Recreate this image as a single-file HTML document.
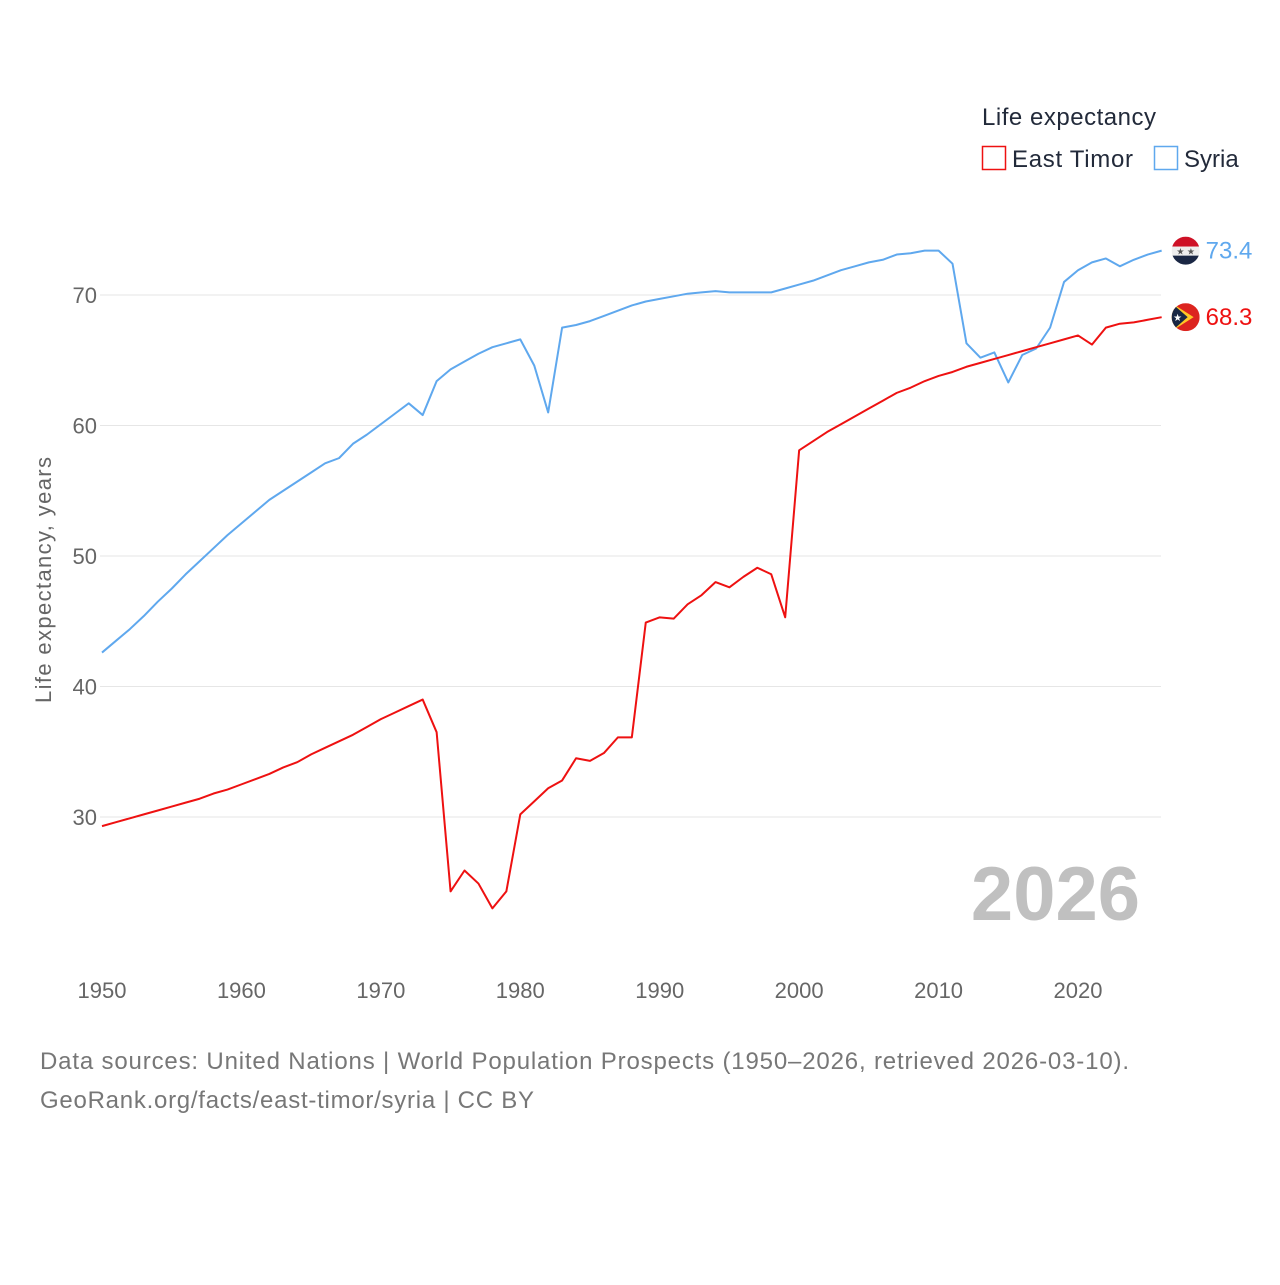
<!DOCTYPE html>
<html><head><meta charset="utf-8"><style>
body{margin:0;background:#fff;width:1280px;height:1280px;overflow:hidden;font-family:"Liberation Sans",sans-serif}
svg text{font-family:"Liberation Sans",sans-serif}
</style></head><body>
<svg id="chart" width="1280" height="1280" xmlns="http://www.w3.org/2000/svg">
<text x="982" y="125" font-size="24" fill="#222a3a" textLength="174">Life expectancy</text>
<g><rect x="982.5" y="146.5" width="23" height="23" fill="none" stroke="#ee1111" stroke-width="1.5"/><text x="1012" y="167" font-size="24" fill="#222a3a" textLength="121">East Timor</text></g>
<g><rect x="1154.5" y="146.5" width="23" height="23" fill="none" stroke="#5fa8ee" stroke-width="1.5"/><text x="1184" y="167" font-size="24" fill="#222a3a">Syria</text></g>
<g id="grid"></g><g id="axes"></g><g id="series"></g>
<text x="1140" y="920" font-size="76" font-weight="bold" fill="#c0c0c0" text-anchor="end">2026</text>
<text transform="translate(51,580) rotate(-90)" font-size="22" fill="#666" text-anchor="middle" textLength="246">Life expectancy, years</text>
<text x="40" y="1069" font-size="24" fill="#777" textLength="1089">Data sources: United Nations | World Population Prospects (1950–2026, retrieved 2026-03-10).</text>
<text x="40" y="1108" font-size="24" fill="#777" textLength="494">GeoRank.org/facts/east-timor/syria | CC BY</text>
</svg>
<script>
const years=[];for(let y=1950;y<=2026;y++)years.push(y);
const syria=[42.6,43.5,44.4,45.4,46.5,47.5,48.6,49.6,50.6,51.6,52.5,53.4,54.3,55.0,55.7,56.4,57.1,57.5,58.6,59.3,60.1,60.9,61.7,60.8,63.4,64.3,64.9,65.5,66.0,66.3,66.6,64.6,61.0,67.5,67.7,68.0,68.4,68.8,69.2,69.5,69.7,69.9,70.1,70.2,70.3,70.2,70.2,70.2,70.2,70.5,70.8,71.1,71.5,71.9,72.2,72.5,72.7,73.1,73.2,73.4,73.4,72.4,66.3,65.2,65.6,63.3,65.4,65.9,67.5,71.0,71.9,72.5,72.8,72.2,72.7,73.1,73.4];
const timor=[29.3,29.6,29.9,30.2,30.5,30.8,31.1,31.4,31.8,32.1,32.5,32.9,33.3,33.8,34.2,34.8,35.3,35.8,36.3,36.9,37.5,38.0,38.5,39.0,36.5,24.3,25.9,24.9,23.0,24.3,30.2,31.2,32.2,32.8,34.5,34.3,34.9,36.1,36.1,44.9,45.3,45.2,46.3,47.0,48.0,47.6,48.4,49.1,48.6,45.3,58.1,58.8,59.5,60.1,60.7,61.3,61.9,62.5,62.9,63.4,63.8,64.1,64.5,64.8,65.1,65.4,65.7,66.0,66.3,66.6,66.9,66.2,67.5,67.8,67.9,68.1,68.3];
const yTicks=[30,40,50,60,70];
const xTicks=[1950,1960,1970,1980,1990,2000,2010,2020];
const NS="http://www.w3.org/2000/svg";
const X=y=>102+(y-1950)*(1078-102)/70;
const Y=v=>295+(70-v)*(817-295)/40;
function mk(t,a,p){const e=document.createElementNS(NS,t);for(const k in a)e.setAttribute(k,a[k]);p.appendChild(e);return e;}
const grid=document.getElementById('grid'),axes=document.getElementById('axes'),ser=document.getElementById('series');
yTicks.forEach(v=>{
 const l=mk('line',{x1:100,x2:1161,y1:Y(v),y2:Y(v),stroke:'#e6e6e6','stroke-width':1},grid);
 
 
 const t=mk('text',{x:97,y:Y(v)+8,'font-size':22,fill:'#666','text-anchor':'end'},axes);t.textContent=v;
 
 
});
xTicks.forEach(v=>{
 const t=mk('text',{x:X(v),y:998,'font-size':22,fill:'#666','text-anchor':'middle'},axes);t.textContent=v;
 
 
});
function line(vals,color,name){
 const p=mk('polyline',{points:vals.map((v,i)=>X(years[i])+','+Y(v)).join(' '),fill:'none',stroke:color,'stroke-width':2,'stroke-linejoin':'round'},ser);
 
 
}
line(syria,'#5fa8ee','syria-line');
line(timor,'#ee1111','east-timor-line');
const last=years.length-1,fx=X(2026)+24;
const sy=Y(syria[last]);
const gs=mk('g',{},ser);


mk('clipPath',{id:'cs'},gs);
mk('circle',{cx:fx,cy:sy,r:14},document.getElementById('cs'));
const gsc=mk('g',{'clip-path':'url(#cs)'},gs);
mk('rect',{x:fx-14,y:sy-14,width:28,height:10,fill:'#ce1126'},gsc);
mk('rect',{x:fx-14,y:sy-4,width:28,height:9,fill:'#eee'},gsc);
mk('rect',{x:fx-14,y:sy+5,width:28,height:10,fill:'#1a2744'},gsc);
const st=mk('text',{x:fx,y:sy+4,'font-size':9,fill:'#555','text-anchor':'middle'},gsc);st.textContent='★ ★';
const ls=mk('text',{x:fx+20,y:sy+8,'font-size':24,fill:'#5fa8ee'},ser);ls.textContent=syria[last].toFixed(1);


const ty=Y(timor[last]);
const gt=mk('g',{},ser);


mk('clipPath',{id:'ct'},gt);
mk('circle',{cx:fx,cy:ty,r:14},document.getElementById('ct'));
const gtc=mk('g',{'clip-path':'url(#ct)'},gt);
mk('rect',{x:fx-14,y:ty-14,width:28,height:28,fill:'#dc241f'},gtc);
mk('polygon',{points:`${fx-14},${ty-14} ${fx+8},${ty} ${fx-14},${ty+14}`,fill:'#ffc726'},gtc);
mk('polygon',{points:`${fx-14},${ty-14} ${fx+2},${ty} ${fx-14},${ty+14}`,fill:'#1a2744'},gtc);
const tt=mk('text',{x:fx-8,y:ty+4,'font-size':10,fill:'#fff','text-anchor':'middle'},gtc);tt.textContent='★';
const lt=mk('text',{x:fx+20,y:ty+8,'font-size':24,fill:'#ee1111'},ser);lt.textContent=timor[last].toFixed(1);


</script>
</body></html>
